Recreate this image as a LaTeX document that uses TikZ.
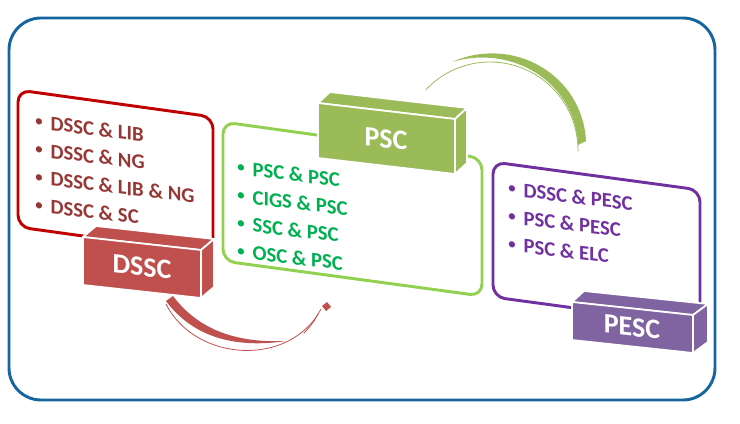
\documentclass[tikz,border=0pt]{standalone}
\usepackage{fontspec}
\setmainfont{Carlito}
\definecolor{frameblue}{RGB}{22,101,158}
\definecolor{redborder}{RGB}{192,0,0}
\definecolor{redbox}{RGB}{192,80,77}
\definecolor{redtext}{RGB}{149,55,53}
\definecolor{greenborder}{RGB}{146,208,80}
\definecolor{greenbox}{RGB}{155,187,89}
\definecolor{greentext}{RGB}{0,176,80}
\definecolor{purpleborder}{RGB}{112,48,160}
\definecolor{purplebox}{RGB}{128,100,162}
\definecolor{purpletext}{RGB}{112,48,160}
\newcommand\mybul{{\fontsize{11}{12}\selectfont\raisebox{2pt}{\textbullet}}\hspace{6pt}}
\tikzset{
  panel/.style={line width=2.2pt, rounded corners=9pt, line join=round},
  cubeface/.style={line width=1.3pt, draw=white, line join=round},
  ptxt/.style={font=\fontsize{15.5}{20.8}\selectfont\bfseries, anchor=north west, align=left, inner sep=0pt, yslant=-0.12},
  blabel/.style={font=\fontsize{21}{24}\selectfont\bfseries, text=white, inner sep=0pt, yslant=-0.11},
}
\begin{document}
\begin{tikzpicture}[x=0.75pt,y=-0.75pt]
\useasboundingbox (0,0) rectangle (740,424);
% outer frame
\draw[frameblue, line width=2.2pt, rounded corners=24pt] (9,18) rectangle (715,400);

% panels
\draw[panel, redborder] (18,160) -- (18,90) -- (213,117) -- (213,254) -- (18,227) -- cycle;
\draw[panel, greenborder] (223,190) -- (223,122) -- (482,158) -- (482,296) -- (223,261) -- cycle;
\draw[panel, purpleborder] (493,230) -- (493,162) -- (700,190) -- (700,325) -- (493,297) -- cycle;

% DSSC box
\filldraw[cubeface, fill=redbox] (96,226) -- (214,239) -- (201,250) -- (83,237) -- cycle;
\filldraw[cubeface, fill=redbox] (201,250) -- (214,239) -- (214,287) -- (201,298) -- cycle;
\filldraw[cubeface, fill=redbox] (83,237) -- (201,250) -- (201,298) -- (83,285) -- cycle;
\node[blabel] (dssc) at (142,267) {DSSC};

% PSC box
\filldraw[cubeface, fill=greenbox] (330,92) -- (467,108) -- (455,119) -- (318,103) -- cycle;
\filldraw[cubeface, fill=greenbox] (455,119) -- (467,108) -- (467,163) -- (455,174) -- cycle;
\filldraw[cubeface, fill=greenbox] (318,103) -- (455,119) -- (455,174) -- (318,158) -- cycle;
\node[blabel] (psc) at (386,139) {PSC};

% PESC box
\filldraw[cubeface, fill=purplebox] (584,291) -- (708,304) -- (693,315) -- (572,302) -- cycle;
\filldraw[cubeface, fill=purplebox] (693,315) -- (708,304) -- (708,342) -- (693,353) -- cycle;
\filldraw[cubeface, fill=purplebox] (572,302) -- (693,315) -- (693,353) -- (572,340) -- cycle;
\node[blabel] (pesc) at (632,327) {PESC};

% panel texts
\node[ptxt, text=redtext] (rtxt) at (35,114)
  {\mybul DSSC \& LIB\\ \mybul DSSC \& NG\\ \mybul DSSC \& LIB \& NG\\ \mybul DSSC \& SC};
\node[ptxt, text=greentext] (gtxt) at (237,160)
  {\mybul PSC \& PSC\\ \mybul CIGS \& PSC\\ \mybul SSC \& PSC\\ \mybul OSC \& PSC};
\node[ptxt, text=purpletext] (ptxt) at (508,181)
  {\mybul DSSC \& PESC\\ \mybul PSC \& PESC\\ \mybul PSC \& ELC};

% red curved arrow
\fill[redbox] (173,296) .. controls (200,332) and (240,343) .. (286,341)
   .. controls (240,348) and (195,340) .. (166,301) -- cycle;
\draw[redbox, line width=0.6pt] (166,304) .. controls (195,362) and (290,368) .. (321,309);
\draw[redbox, line width=0.6pt] (304,333) .. controls (310,327) and (315,320) .. (318,314);
\fill[redbox] (322,306) -- (327,302) -- (331,307) -- (326,311) -- cycle;

% green curved arrow
\fill[greenbox] (452,62) .. controls (512.8,34.9) and (582.5,74.5) .. (586,141)
   -- (578,145) .. controls (575,82) and (512,44) .. (452,62) -- cycle;
\draw[greenbox, line width=0.6pt] (425.6,90) arc[start angle=-137, end angle=1, radius=88];
\end{tikzpicture}
\end{document}
